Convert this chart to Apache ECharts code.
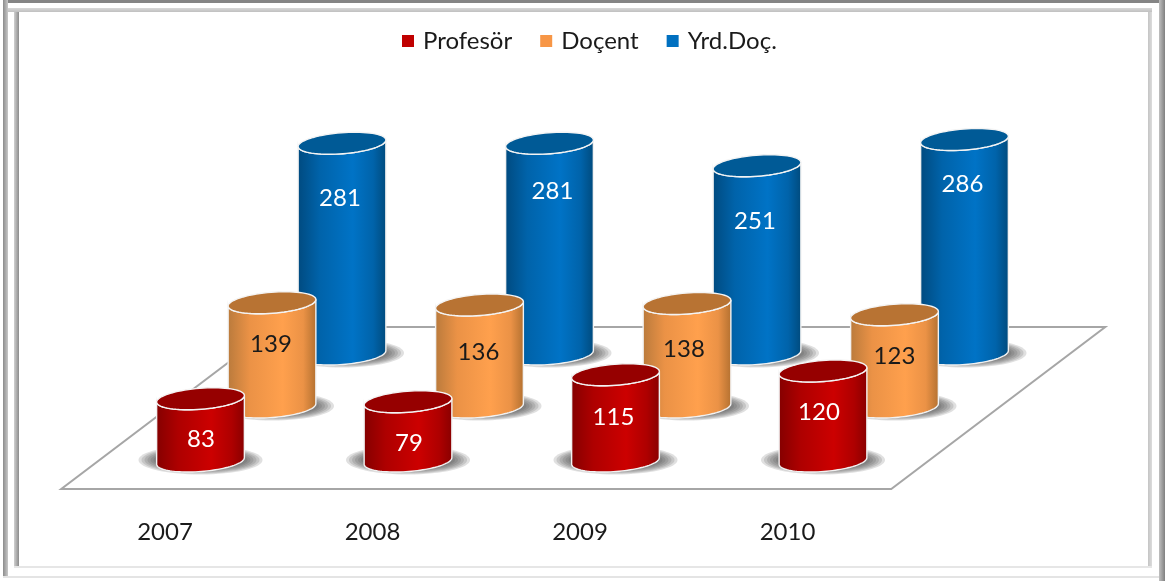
<!DOCTYPE html>
<html><head><meta charset="utf-8">
<style>html,body{margin:0;padding:0;background:#fff}#c{width:1165px;height:581px;filter:blur(0.4px)}</style>
<script src="https://cdn.jsdelivr.net/npm/echarts@6/dist/echarts.min.js"></script>
</head><body><div id="c"></div>
<script>
const years = ['2007','2008','2009','2010'];
const profesor = [83,79,115,120];
const docent = [139,136,138,123];
const yrdDoc = [281,281,251,286];

const FONT = 'Lato';
const RX = 44, RY = 10.5, TILT = -4.5 * Math.PI / 180;
const FLOOR_DX = 214, FLOOR_DY = 162;
const SHADOW_STEPS = [[18,14.5],[15,13.5],[12,12.5],[9,11.5],[6,10.5],[3,9.5],[0,8.5]];

const seriesStyles = {
  'Profesör': {color:'#c00000', top:'#960000', edge:['#840000','#ae0000','#cc0000','#ae0000','#880000'], text:'#ffffff', dx:35.5, dy:-28,  z:6, drop:[41,42,43,41], nudge:[0.5,1,-2,-4]},
  'Doçent':   {color:'#f79646', top:'#b87333', edge:['#b97a3c','#eb9246','#ffa04d','#eb9246','#b27030'], text:'#1a1a1a', dx:107,  dy:-82,  z:5, drop:[42,47,45.5,42], nudge:[-1,-1,-3,0]},
  'Yrd.Doç.': {color:'#0070c0', top:'#005a96', edge:['#004a7f','#0063aa','#0073c6','#0063aa','#004a7c'], text:'#ffffff', dx:177,  dy:-135, z:4, drop:[55,48,56,44.5], nudge:[-2,3,-2,-2]}
};

function ell(cx, cy, t, rx, ry) {
  const c = Math.cos(t), s = Math.sin(t);
  return [cx + rx*c*Math.cos(TILT) - ry*s*Math.sin(TILT),
          cy + rx*c*Math.sin(TILT) + ry*s*Math.cos(TILT)];
}
function arc(cx, cy, from, to, n) {
  const p = [];
  for (let i = 0; i <= n; i++) p.push(ell(cx, cy, from + (to-from)*i/n, RX, RY));
  return p;
}
function cylinder(name) {
  const st = seriesStyles[name];
  return function (params, api) {
    const i = api.value(0), v = api.value(1);
    const base = api.coord([i, 0]), top = api.coord([i, v]);
    const cx = base[0] + st.dx, by = base[1] + st.dy, ty = top[1] + st.dy;
    const body = arc(cx, by, 0, Math.PI, 48).concat(arc(cx, ty, Math.PI, 0, 48));
    const shadows = SHADOW_STEPS.map(s => ({type:'ellipse', shape:{cx:cx, cy:by-1, rx:RX+s[0], ry:s[1]},
      style:{fill:'rgba(70,70,70,0.17)'}}));
    return {type:'group', children:shadows.concat([
      {type:'polygon', shape:{points:body}, style:{
        fill:{type:'linear',x:0,y:0,x2:1,y2:0,colorStops:[
          {offset:0,color:st.edge[0]},{offset:0.25,color:st.edge[1]},{offset:0.62,color:st.edge[2]},{offset:0.85,color:st.edge[3]},{offset:1,color:st.edge[4]}]},
        stroke:'#f2f2f2', lineWidth:1.4}},
      {type:'polygon', shape:{points:arc(cx, ty, 0, 2*Math.PI, 72)}, style:{fill:st.top, stroke:'#f4f4f4', lineWidth:1.4}},
      {type:'text', x:cx + st.nudge[i], y:ty + st.drop[i], style:{text:String(v), fill:st.text, font:'24px '+FONT, align:'center', verticalAlign:'middle'}}
    ])};
  };
}
function makeSeries(name, values) {
  return {name:name, type:'custom', coordinateSystem:'cartesian2d', clip:false, silent:true,
    z:seriesStyles[name].z, itemStyle:{color:seriesStyles[name].color},
    encode:{x:0,y:1}, data:values.map((v,i)=>[i,v]), renderItem:cylinder(name)};
}
const floorSeries = {name:'floor', type:'custom', coordinateSystem:'cartesian2d', clip:false, silent:true, z:1,
  data:[[0,0]], encode:{x:0,y:1},
  renderItem:function(params){
    const g = params.coordSys, b = g.y + g.height;
    return {type:'polygon', shape:{points:[[g.x,b],[g.x+g.width,b],[g.x+g.width+FLOOR_DX,b-FLOOR_DY],[g.x+FLOOR_DX,b-FLOOR_DY]]},
      style:{fill:'#ffffff', stroke:'#a6a6a6', lineWidth:2}};
  }};

function bar(x,y,w,h,fill){return {type:'rect',silent:true,z:0,shape:{x,y,width:w,height:h},style:{fill}};}
function grad(horizontal,a,b){return {type:'linear',x:0,y:0,x2:horizontal?1:0,y2:horizontal?0:1,colorStops:[{offset:0,color:a},{offset:1,color:b}]};}
const frame = [
  bar(0,0,1165,3,'#858585'),
  bar(0,0,3,581,'#ffffff'),
  bar(3,0,5,578,grad(true,'#8c8c8c','#c8c8c8')),
  bar(1159,0,6,581,grad(true,'#c0c0c0','#808080')),
  bar(8,8,1144,4,grad(false,'#d8d8d8','#c0c0c0')),
  bar(14,12,5,554,grad(true,'#d0d0d0','#8c8c8c')),
  bar(1148,12,4,554,grad(true,'#c4c4c4','#dcdcdc')),
  bar(14,566,1138,2,'#e6e6e6'),
  bar(3,576,1156,2,'#e4e4e4')
];

const chart = echarts.init(document.getElementById('c'), null, {renderer:'canvas'});
chart.setOption({
  animation:false,
  backgroundColor:'#ffffff',
  graphic:{elements:frame},
  legend:{data:['Profesör','Doçent','Yrd.Doç.'], left:402, top:29, padding:0, itemWidth:12, itemHeight:12, itemGap:28,
    icon:'rect', selectedMode:false,
    textStyle:{fontFamily:FONT, fontSize:24, color:'#1a1a1a', padding:[0,0,0,4]}},
  grid:{left:61.25, right:273.75, top:189, bottom:92},
  xAxis:{type:'category', data:years, axisLine:{show:false}, axisTick:{show:false}, splitLine:{show:false},
    axisLabel:{margin:31, fontFamily:FONT, fontSize:24, color:'#1a1a1a'}},
  yAxis:{type:'value', min:0, max:400, interval:100, show:false, splitLine:{show:false}},
  series:[floorSeries, makeSeries('Profesör',profesor), makeSeries('Doçent',docent), makeSeries('Yrd.Doç.',yrdDoc)]
});
</script></body></html>
